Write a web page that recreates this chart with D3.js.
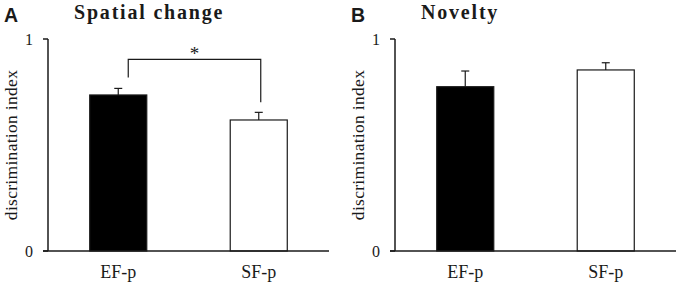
<!DOCTYPE html>
<html>
<head>
<meta charset="utf-8">
<script src="https://cdn.jsdelivr.net/npm/d3@7"></script>
<style>
  body { margin: 0; background: #fff; }
  svg { display: block; }
  .serif { font-family: "Liberation Serif", "Times New Roman", serif; }
</style>
</head>
<body>
<svg width="680" height="286"></svg>
<script>
// data
var groups = ["EF-p", "SF-p"];
var fills = ["#000", "#fff"];
var spatialMean = [0.736, 0.618];
var spatialErr = [0.031, 0.036];
var noveltyMean = [0.775, 0.854];
var noveltyErr = [0.074, 0.034];
var yTicks = [0, 1];

var svg = d3.select("svg"),
    ink = "#1a1a1a",
    plotW = 281,
    plotTop = 39,
    plotBottom = 251;

var y = d3.scaleLinear().domain([0, 1]).range([plotBottom, plotTop]);

function panel(left, letter, title, means, errs, sig) {
  var g = svg.append("g").attr("transform", "translate(" + left + ",0)");

  var x = d3.scaleBand()
      .domain(groups)
      .range([0, plotW])
      .paddingInner(0.594)
      .paddingOuter(0.297);

  // bars
  g.selectAll("rect.bar")
    .data(groups)
    .enter().append("rect")
      .attr("class", "bar")
      .attr("x", function(d) { return x(d); })
      .attr("y", function(d, i) { return y(means[i]); })
      .attr("width", x.bandwidth())
      .attr("height", function(d, i) { return y(0) - y(means[i]); })
      .attr("fill", function(d, i) { return fills[i]; })
      .attr("stroke", ink)
      .attr("stroke-width", 1.2);

  // upper error bars
  var eb = g.selectAll("g.err")
    .data(groups)
    .enter().append("g")
      .attr("class", "err")
      .attr("stroke", ink)
      .attr("stroke-width", 1.2);
  eb.append("line")
      .attr("x1", function(d) { return x(d) + x.bandwidth() / 2; })
      .attr("x2", function(d) { return x(d) + x.bandwidth() / 2; })
      .attr("y1", function(d, i) { return y(means[i]); })
      .attr("y2", function(d, i) { return y(means[i] + errs[i]); });
  eb.append("line")
      .attr("x1", function(d) { return x(d) + x.bandwidth() / 2 - 4; })
      .attr("x2", function(d) { return x(d) + x.bandwidth() / 2 + 4; })
      .attr("y1", function(d, i) { return y(means[i] + errs[i]); })
      .attr("y2", function(d, i) { return y(means[i] + errs[i]); });

  // y axis: line plus ticks at 0 and 1
  var ya = g.append("g").attr("class", "serif");
  ya.append("line")
      .attr("x1", 0).attr("x2", 0)
      .attr("y1", y(1)).attr("y2", y(0))
      .attr("stroke", ink).attr("stroke-width", 1.5);
  ya.selectAll("line.tk")
    .data(yTicks)
    .enter().append("line")
      .attr("class", "tk")
      .attr("x1", -5).attr("x2", 0)
      .attr("y1", function(d) { return y(d); })
      .attr("y2", function(d) { return y(d); })
      .attr("stroke", ink).attr("stroke-width", 1.5);
  ya.selectAll("text")
    .data(yTicks)
    .enter().append("text")
      .attr("x", -15)
      .attr("y", function(d) { return y(d); })
      .attr("dy", "0.35em")
      .attr("text-anchor", "end")
      .attr("font-size", 16)
      .attr("fill", ink)
      .text(function(d) { return d; });

  // x axis baseline
  g.append("line")
      .attr("x1", -5).attr("x2", plotW)
      .attr("y1", y(0)).attr("y2", y(0))
      .attr("stroke", ink).attr("stroke-width", 1.5);

  g.selectAll("text.xl")
    .data(groups)
    .enter().append("text")
      .attr("class", "xl serif")
      .attr("x", function(d) { return x(d) + x.bandwidth() / 2; })
      .attr("y", 278)
      .attr("text-anchor", "middle")
      .attr("font-size", 18)
      .attr("fill", ink)
      .text(function(d) { return d; });

  // y label
  g.append("text")
      .attr("class", "serif")
      .attr("transform", "translate(" + (-31) + "," + ((plotTop + plotBottom) / 2) + ") rotate(-90)")
      .attr("text-anchor", "middle")
      .attr("font-size", 17.5)
      .attr("letter-spacing", 0.3)
      .attr("fill", ink)
      .text("discrimination index");

  // panel letter and title
  svg.append("text")
      .attr("x", left - 44)
      .attr("y", 22)
      .attr("font-family", "Liberation Sans, Arial, sans-serif")
      .attr("font-weight", "bold")
      .attr("font-size", 19.5)
      .attr("fill", ink)
      .text(letter);
  svg.append("text")
      .attr("class", "serif")
      .attr("x", left + 26)
      .attr("y", 18.5)
      .attr("font-weight", "bold")
      .attr("font-size", 20)
      .attr("letter-spacing", 1.8)
      .attr("fill", ink)
      .text(title);

  if (sig) {
    var a = x(groups[0]) + x.bandwidth() / 2 + 10,
        b = x(groups[1]) + x.bandwidth() / 2 + 2,
        hy = y(sig.level);
    g.append("path")
        .attr("d", "M" + a + "," + (y(means[0] + errs[0]) - 11) +
                   "V" + hy + "H" + b +
                   "V" + (y(means[1] + errs[1]) - 10))
        .attr("fill", "none")
        .attr("stroke", ink)
        .attr("stroke-width", 1.2);
    g.append("text")
        .attr("class", "serif")
        .attr("x", (a + b) / 2)
        .attr("y", hy + 1)
        .attr("text-anchor", "middle")
        .attr("font-size", 19)
        .attr("fill", ink)
        .text(sig.label);
  }
}

panel(48, "A", "Spatial change", spatialMean, spatialErr, { level: 0.904, label: "*" });
panel(395, "B", "Novelty", noveltyMean, noveltyErr, null);
</script>
</body>
</html>
